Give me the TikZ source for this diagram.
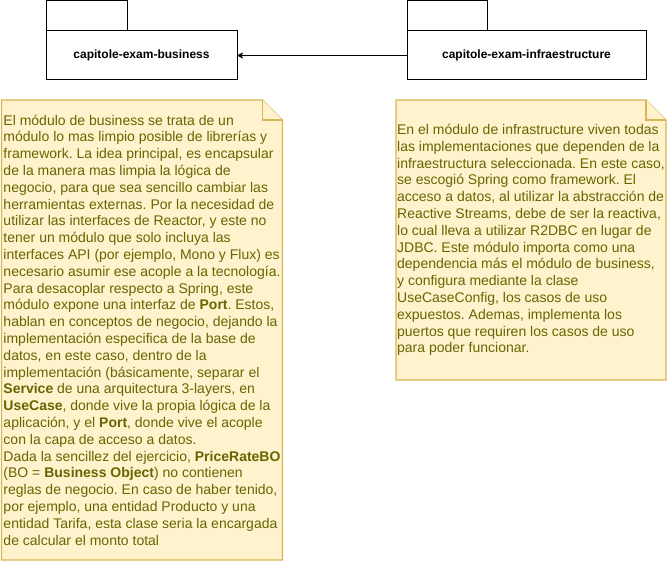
\documentclass[tikz,border=0pt]{standalone}
\usepackage{fontspec}
\setmainfont{Liberation Sans}
\frenchspacing
\usetikzlibrary{positioning,arrows.meta,backgrounds}
\definecolor{notefill}{HTML}{FFF2CC}
\definecolor{notedraw}{HTML}{D6B656}
\definecolor{notetext}{HTML}{666600}
\tikzset{
  pkgbox/.style={draw,line width=1pt,inner sep=0pt,outer sep=0pt,minimum height=49pt,font=\fontsize{12}{14}\selectfont\bfseries},
  pkgtab/.style={draw,line width=1pt},
  notebox/.style={align=left,inner sep=0pt,outer sep=0pt,text=notetext,font=\fontsize{14}{16.8}\selectfont},
  notefold/.style={draw=notedraw,fill=notefill,line width=1.2pt,line join=miter},
}
\begin{document}
\begin{tikzpicture}[x=1pt,y=1pt]
\useasboundingbox (0,0) rectangle (667,562);
\node[pkgbox,minimum width=191pt](PK1) at (141.5,506.5){capitole-exam-business};
\node[pkgbox,minimum width=239pt,right=170pt of PK1](PK2){capitole-exam-infraestructure};
\draw[pkgtab] (PK1.north west) rectangle ++(81,30);
\draw[pkgtab] (PK2.north west) rectangle ++(80,30);
\draw[line width=1pt,-{Stealth[length=6pt,width=6pt,inset=1.5pt]}] (PK2.west) -- (PK1.east);
\node[notebox,minimum width=281pt,minimum height=460pt,below=20pt of PK1,xshift=0.5pt](NT1){El módulo de business se trata de un\\
módulo lo mas limpio posible de librerías y\\
framework. La idea principal, es encapsular\\
de la manera mas limpia la lógica de\\
negocio, para que sea sencillo cambiar las\\
herramientas externas. Por la necesidad de\\
utilizar las interfaces de Reactor, y este no\\
tener un módulo que solo incluya las\\
interfaces API (por ejemplo, Mono y Flux) es\\
necesario asumir ese acople a la tecnología.\\
Para desacoplar respecto a Spring, este\\
módulo expone una interfaz de \textbf{Port}. Estos,\\
hablan en conceptos de negocio, dejando la\\
implementación especifica de la base de\\
datos, en este caso, dentro de la\\
implementación (básicamente, separar el\\
\textbf{Service} de una arquitectura 3-layers, en\\
\textbf{UseCase}, donde vive la propia lógica de la\\
aplicación, y el \textbf{Port}, donde vive el acople\\
con la capa de acceso a datos.\\
Dada la sencillez del ejercicio, \textbf{PriceRateBO}\\
(BO = \textbf{Business Object}) no contienen\\
reglas de negocio. En caso de haber tenido,\\
por ejemplo, una entidad Producto y una\\
entidad Tarifa, esta clase seria la encargada\\
de calcular el monto total};
\node[notebox,minimum width=270pt,minimum height=280pt,below=20pt of PK2,xshift=4.5pt](NT2){En el módulo de infrastructure viven todas\\
las implementaciones que dependen de la\\
infraestructura seleccionada. En este caso,\\
se escogió Spring como framework. El\\
acceso a datos, al utilizar la abstracción de\\
Reactive Streams, debe de ser la reactiva,\\
lo cual lleva a utilizar R2DBC en lugar de\\
JDBC. Este módulo importa como una\\
dependencia más el módulo de business,\\
y configura mediante la clase\\
UseCaseConfig, los casos de uso\\
expuestos. Ademas, implementa los\\
puertos que requiren los casos de uso\\
para poder funcionar.};
\begin{scope}[on background layer]
\foreach \n in {NT1,NT2}{
  \draw[notefold] (\n.south west) -- (\n.north west) -- ([xshift=-20pt]\n.north east) -- ([yshift=-20pt]\n.north east) -- (\n.south east) -- cycle;
  \draw[notefold] ([xshift=-20pt]\n.north east) |- ([yshift=-20pt]\n.north east);
}
\end{scope}
\end{tikzpicture}
\end{document}
